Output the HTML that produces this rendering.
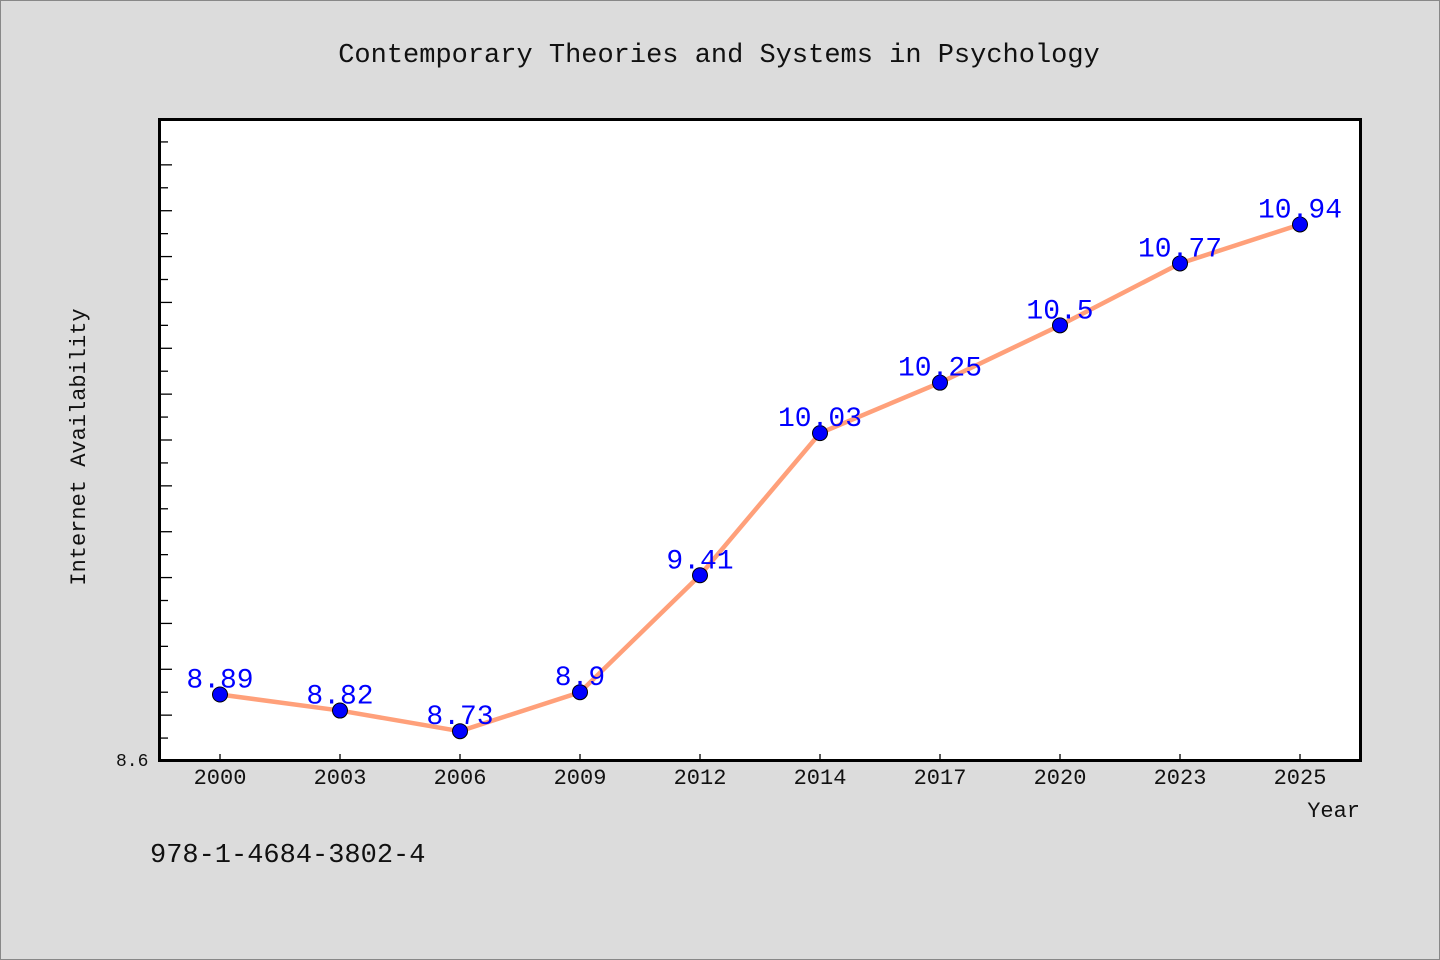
<!DOCTYPE html>
<html><head><meta charset="utf-8"><style>
html,body{margin:0;padding:0;background:#dcdcdc;}
svg{display:block;font-family:"WenQuanYi Zen Hei","Liberation Mono",monospace;}
</style></head><body>
<svg width="1440" height="960" xmlns="http://www.w3.org/2000/svg">
<rect x="0.5" y="0.5" width="1439" height="959" fill="#dcdcdc" stroke="#888"/>
<text x="719" y="62" font-size="27" text-anchor="middle" fill="#111">Contemporary Theories and Systems in Psychology</text>
<rect x="159.5" y="119.5" width="1201" height="641" fill="#fff" stroke="#000" stroke-width="3"/>
<g id="yticks"></g><g id="xticks"></g>
<text x="116" y="766" font-size="18" fill="#111">8.6</text>
<text transform="translate(85,447) rotate(-90)" font-size="22" text-anchor="middle" fill="#111">Internet Availability</text>
<text x="1360" y="817" font-size="22" text-anchor="end" fill="#111">Year</text>
<text x="150" y="862" font-size="27" fill="#111">978-1-4684-3802-4</text>
<g id="series"></g>
</svg>
<script>
const categories=["2000","2003","2006","2009","2012","2014","2017","2020","2023","2025"];
const values=[8.89,8.82,8.73,8.9,9.41,10.03,10.25,10.5,10.77,10.94];
const labels=["8.89","8.82","8.73","8.9","9.41","10.03","10.25","10.5","10.77","10.94"];
const yMin=8.6, yMax=11.4;
const NS="http://www.w3.org/2000/svg";
const plotTop=119,plotBot=761,plotLeft=159;
function yScale(v){return plotBot-(v-yMin)/(yMax-yMin)*(plotBot-plotTop);}
function xScale(i){return 220+i*120;}
function mk(t,a,p){const e=document.createElementNS(NS,t);for(const k in a)e.setAttribute(k,a[k]);p.appendChild(e);return e;}
const yt=document.getElementById('yticks');
for(let k=1;k<=27;k++){const v=yMin+k*0.1;const yy=yScale(v);
 const t=mk('line',{x1:plotLeft,x2:plotLeft+(k%2===0?13:9),y1:yy,y2:yy,stroke:'#000','stroke-width':1.3},yt);
 
 }
const xt=document.getElementById('xticks');
categories.forEach((c,i)=>{
 const l=mk('line',{x1:xScale(i),x2:xScale(i),y1:plotBot,y2:plotBot-7,stroke:'#000','stroke-width':1.3},xt);
 
 
 const t=mk('text',{x:xScale(i),y:plotBot+23,'font-size':22,'text-anchor':'middle',fill:'#111'},xt);
 t.textContent=c;
 
 
});
const s=document.getElementById('series');
const pl=mk('polyline',{points:values.map((v,i)=>xScale(i)+','+yScale(v)).join(' '),fill:'none',stroke:'#ffa07a','stroke-width':4.5},s);


values.forEach((v,i)=>{
 const c=mk('circle',{cx:xScale(i),cy:yScale(v),r:7.5,fill:'#0000ff',stroke:'#000','stroke-width':1},s);
 
 
 const t=mk('text',{x:xScale(i),y:yScale(v)-7,'font-size':28,'text-anchor':'middle',fill:'#0000ff'},s);
 t.textContent=labels[i];
 
 
});
</script>
</body></html>
